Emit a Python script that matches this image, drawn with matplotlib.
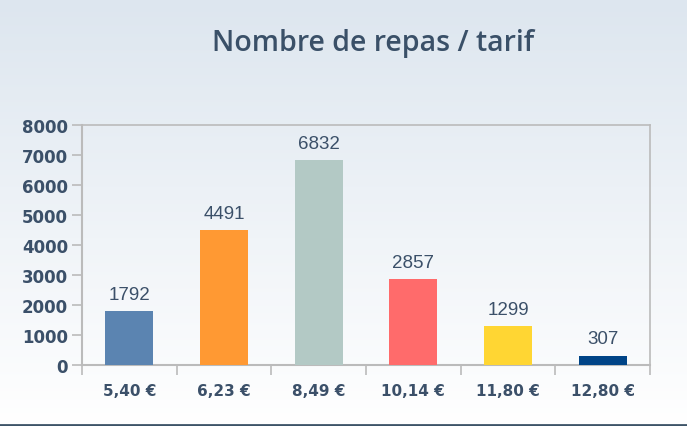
import matplotlib
matplotlib.use("Agg")
import matplotlib.pyplot as plt
import numpy as np
from matplotlib.colors import LinearSegmentedColormap

categories = ["5,40 €", "6,23 €", "8,49 €", "10,14 €", "11,80 €", "12,80 €"]
values = [1792, 4491, 6832, 2857, 1299, 307]
colors = ["#5b84b1", "#ff9933", "#b3c9c5", "#ff6b6b", "#ffd633", "#004487"]
yticks = [0, 1000, 2000, 3000, 4000, 5000, 6000, 7000, 8000]
title = "Nombre de repas / tarif"

W, H = 687, 427
fig = plt.figure(figsize=(W / 100, H / 100), dpi=100)

# background gradient
bg = fig.add_axes([0, 0, 1, 1], zorder=-10)
cmap = LinearSegmentedColormap.from_list("bg", ["#dde6ef", "#ffffff"])
grad = np.linspace(0, 1, 256).reshape(-1, 1)
bg.imshow(grad, aspect="auto", cmap=cmap, extent=[0, 1, 0, 1], origin="upper")
bg.axis("off")
bg.plot([0, 1], [1.5 / H, 1.5 / H], color="#3d5468", lw=2, transform=bg.transAxes, clip_on=False)
bg.set_xlim(0, 1)
bg.set_ylim(0, 1)

left, right, top, bottom = 82, 650, 126, 366
ax = fig.add_axes([left / W, 1 - bottom / H, (right - left) / W, (bottom - top) / H])
ax.patch.set_alpha(0)

x = np.arange(len(categories))
ax.bar(x, values, width=0.51, color=colors, zorder=3)
for xi, v in zip(x, values):
    ax.text(xi, v + 280, str(v), ha="center", va="bottom", fontsize=13.5,
            family="Liberation Sans", color="#3b5069")

ax.set_xlim(-0.5, len(categories) - 0.5)
ax.set_ylim(0, 8000)
ax.set_yticks(yticks)
ax.set_yticklabels([str(t) for t in yticks], fontsize=12, fontweight="bold",
                   family="DejaVu Sans", color="#3b5069")
ax.set_xticks(np.arange(len(categories) + 1) - 0.5)
ax.set_xticklabels([])
ax.set_xticks(x, minor=True)
ax.set_xticklabels(categories, minor=True, fontsize=11, fontweight="bold",
                   family="DejaVu Sans", color="#3b5069")
ax.tick_params(axis="x", which="minor", length=0, pad=13)
ax.tick_params(axis="x", which="major", length=7, color="#bbbbbb", width=1.2)
ax.tick_params(axis="y", length=7, color="#bbbbbb", width=1.2, pad=3)
for s in ax.spines.values():
    s.set_color("#bbbbbb")
    s.set_linewidth(1.2)
ax.spines["bottom"].set_linewidth(1.5)
ax.spines["left"].set_linewidth(1.5)

fig.text(373 / W, 1 - 44 / H, title, ha="center", va="center", fontsize=20.5,
         family="Open Sans", fontweight="semibold", color="#3a5068")

fig.savefig("out.png", dpi=100)
